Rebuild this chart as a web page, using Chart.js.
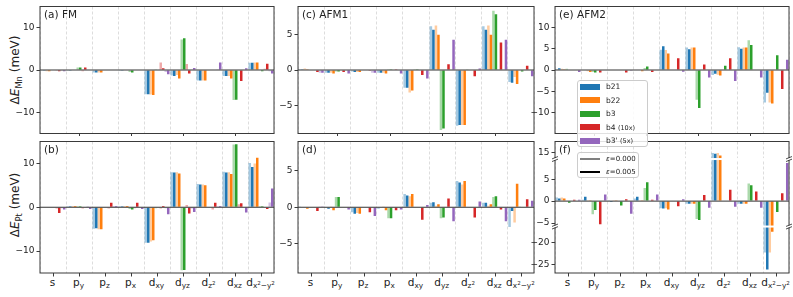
<!DOCTYPE html>
<html>
<head>
<meta charset="utf-8">
<script src="https://cdn.jsdelivr.net/npm/chart.js@4.4.1/dist/chart.umd.min.js"></script>
<style>
body{margin:0;background:#fff}
#fig{position:relative;width:793px;height:297px;overflow:hidden;font-family:"DejaVu Sans",sans-serif;color:#222}
canvas{position:absolute}
.xl{position:absolute;font-size:10.5px;line-height:1;white-space:nowrap;transform:translateX(-50%)}
.pt{position:absolute;font-size:10.5px;line-height:1;white-space:nowrap}
.yt{position:absolute;font-size:12px;line-height:1;white-space:nowrap;transform:translate(-50%,-50%) rotate(-90deg)}
sub{font-size:0.7em;vertical-align:-0.3em;line-height:0}
sup{font-size:0.75em;vertical-align:0.55em;line-height:0}
.leg{position:absolute;background:rgba(255,255,255,0.85);border:1px solid #ccc;border-radius:3px;box-sizing:border-box}
.leg .pa{position:absolute;left:2px;width:20px;height:6px}
.leg .tx{position:absolute;left:28px;font-size:7.5px;line-height:9px;white-space:nowrap}
.leg small{font-size:6.5px}
</style>
</head>
<body>
<div id="fig"></div>
<script>
const categories = ['s','py','pz','px','dxy','dyz','dz2','dxz','dx2-y2'];
const catLabels = ['s','p<sub>y</sub>','p<sub>z</sub>','p<sub>x</sub>','d<sub>xy</sub>','d<sub>yz</sub>',
  'd<sub>z<sup>2</sup></sub>','d<sub>xz</sub>','d<sub>x<sup>2</sup>\u2212y<sup>2</sup></sub>'];
const seriesNames = ['b21','b22','b3','b4 (10x)',"b3' (5x)"];
const strains = ['0.000','0.005'];

// y tick values per panel
const yTicksFM = [-10,0,10];
const yTicksAFM1 = [-5,0,5];
const yTicksAFM2 = [-10,-5,0,5,10];
const yTicksAFM2Pt = [-25,-20,-5,0,5,15];

// each series: [eps=0.000, eps=0.005], values in meV per orbital
// (a) FM, Mn
const fmMn_b21 = [[-0.2,-0.2,-0.6,-0.2,-5.7,-1.3,-2.5,-1.4,1.7],[-0.2,-0.2,-0.6,-0.2,-5.7,-1.4,-2.5,-1.4,1.7]];
const fmMn_b22 = [[-0.3,-0.1,-0.6,0,-5.8,-1.2,-2.5,-1.4,1.8],[-0.3,-0.1,-0.6,-0.1,-5.9,-2.0,-2.5,-2.0,1.8]];
const fmMn_b3 = [[-0.1,0.6,0,-0.5,0.2,7.2,0,-7.1,0],[-0.1,0.6,0,-0.6,0,7.5,0,-7.0,-0.3]];
const fmMn_b4 = [[-0.2,-0.3,0,0.1,1.8,1.4,-0.1,0,0.3],[-0.3,0.6,0,0,0.4,-0.8,-0.1,-2.6,1.5]];
const fmMn_b3p = [[-0.2,0.1,0,0,-0.5,0.2,0.2,0,-0.3],[-0.3,0.1,0,0,-1.0,0.5,1.8,0.4,-0.8]];
// (b) FM, Pt
const fmPt_b21 = [[0,0.2,-4.9,0.2,-8.1,8.0,5.3,8.1,10.1],[0,0.2,-4.8,0.2,-8.1,7.9,5.2,7.9,9.2]];
const fmPt_b22 = [[0,0.3,-5.0,0.3,-7.8,8.0,5.2,8.0,10.0],[0,0.3,-5.0,0.3,-7.5,7.7,5.0,7.6,11.3]];
const fmPt_b3 = [[-0.1,0.2,0,-0.4,-0.2,-14.4,0,14.3,0.2],[0,0.2,0,-0.5,0,-14.3,0,14.4,0.2]];
const fmPt_b4 = [[-0.3,-0.3,-0.3,-0.2,-0.3,0.5,-0.5,0.7,-0.1],[-1.3,0,1.0,1.0,0.3,-1.4,1.0,0.9,-0.4]];
const fmPt_b3p = [[-0.2,0.2,0.3,0,-0.2,-0.3,0.2,0,1.1],[-0.5,-0.4,0.3,-0.4,-1.6,-1.1,0.3,-1.2,4.3]];
// (c) AFM1, Mn
const afm1Mn_b21 = [[0.1,-0.4,-0.2,-0.4,-2.5,6.2,-7.9,6.2,-1.7],[0.1,-0.4,-0.3,-0.4,-2.5,5.7,-7.8,5.7,-1.8]];
const afm1Mn_b22 = [[0.2,-0.4,-0.3,-0.4,-3.2,6.3,-7.8,6.3,-1.0],[0.1,-0.5,-0.3,-0.5,-2.9,5.0,-7.8,5.0,-2.0]];
const afm1Mn_b3 = [[0,-0.2,0,0.1,0.1,-8.5,0.1,8.4,0],[0,-0.2,0,0.1,0.1,-8.3,0,7.9,-0.2]];
const afm1Mn_b4 = [[0,0,0,0,0,0,0,0,0],[-0.3,-0.3,-0.05,0.1,-0.7,0.8,-0.9,3.9,0.6]];
const afm1Mn_b3p = [[-0.4,0,-0.4,0,0,0,0,0,0],[-0.4,-0.5,-0.4,-0.5,-1.2,4.3,0.2,4.3,-0.9]];
// (d) AFM1, Pt
const afm1Pt_b21 = [[0.1,-0.1,-0.7,-0.2,1.8,0.6,3.6,0.6,-2.7],[0,-0.2,-0.9,0,1.6,0.7,3.4,0.6,-0.5]];
const afm1Pt_b22 = [[0,0.1,-0.8,0.1,1.5,0.2,3.1,0.2,-2.1],[-0.2,-0.4,-0.9,-0.4,1.8,0.4,3.6,0.4,3.2]];
const afm1Pt_b3 = [[0,1.4,0,-1.5,0,-1.5,0,1.4,0.1],[0,1.4,0,-1.5,0,-1.4,0,1.5,0]];
const afm1Pt_b4 = [[0,0,0,0,0,0,0,0,0],[-0.5,0,-0.7,-0.4,-1.7,1.2,-1.4,-0.3,1.1]];
const afm1Pt_b3p = [[0.1,0,0,0,0,0,0,0,0],[0.1,-0.3,-1.2,-0.3,0.3,-1.9,0.8,-1.9,0.9]];
// (e) AFM2, Mn
const afm2Mn_b21 = [[0.2,-0.1,0,0,4.8,5.3,-1.2,5.4,-7.7],[0.4,-0.1,0,0,5.6,4.9,-0.9,5.0,-5.4]];
const afm2Mn_b22 = [[0.3,-0.3,0,-0.1,4.7,5.3,-1.1,5.3,-7.7],[0.2,-0.5,-0.1,-0.3,3.9,5.3,-1.3,5.3,-7.9]];
const afm2Mn_b3 = [[0.3,-0.5,0,0.5,0.1,-7.0,0.1,7.0,0],[0.1,-0.6,0,0.8,0,-9.0,1.0,5.9,3.5]];
const afm2Mn_b4 = [[0,0,0,0,0,0,0,0,0],[0,-0.6,-0.6,-0.5,2.8,1.3,2.8,0,-4.5]];
const afm2Mn_b3p = [[0,0,0,0,0,0,0,0,0],[-0.5,0,-0.2,0,-0.4,-1.8,-2.6,-1.8,2.4]];
// (f) AFM2, Pt
const afm2Pt_b21 = [[0.8,0.3,0.2,0.6,-1.6,-0.6,15.0,-0.6,-22.2],[0.6,1.0,-0.2,1.0,-1.7,-0.6,14.8,-0.6,-26.1]];
const afm2Pt_b22 = [[0.8,0.2,0.2,0.2,-1.6,-0.6,15.0,-0.6,-22.2],[0.6,0.2,0.1,0.2,-1.9,-0.6,14.4,-0.6,-17.5]];
const afm2Pt_b3 = [[0,-3.0,0,3.0,0,-4.1,0,4.0,0],[-0.4,-2.0,-1.0,4.3,0,-4.3,-0.1,3.6,-2.5]];
const afm2Pt_b4 = [[0,0,0,0,0,0,0,0,0],[0.3,-5.3,0.4,0.3,-1.2,1.4,2.6,2.2,1.8]];
const afm2Pt_b3p = [[0,0,0,0,0,0,0,0,0],[0.3,1.5,-2.9,1.5,0.4,-1.5,-1.3,-1.5,8.7]];

const colors = ['#1f77b4','#ff7f0e','#2ca02c','#d62728','#9467bd'];

// panel (f) has a broken y axis: shift the outer segments toward the middle
function brk(v){
  if (v > 9.6) return Math.max(v - 4, 9.6);
  if (v < -5.8) return Math.min(v + 10.5, -5.8);
  return v;
}
function light(hex){
  const n = parseInt(hex.slice(1),16);
  return 'rgba('+(n>>16)+','+((n>>8)&255)+','+(n&255)+',0.4)';
}
function fmt(v){ return v < 0 ? '\u2212'+Math.abs(v) : String(v); }

const cols = [[39.5,234],[297.5,236],[554.5,234]];
const rows = [[2.5,134],[137.5,135]];

const panels = [
  {title:'(a) FM', col:0, row:0, data:[fmMn_b21,fmMn_b22,fmMn_b3,fmMn_b4,fmMn_b3p], ticks:yTicksFM, min:-15, max:15},
  {title:'(b)', col:0, row:1, data:[fmPt_b21,fmPt_b22,fmPt_b3,fmPt_b4,fmPt_b3p], ticks:yTicksFM, min:-15, max:15},
  {title:'(c) AFM1', col:1, row:0, data:[afm1Mn_b21,afm1Mn_b22,afm1Mn_b3,afm1Mn_b4,afm1Mn_b3p], ticks:yTicksAFM1, min:-9, max:9},
  {title:'(d)', col:1, row:1, data:[afm1Pt_b21,afm1Pt_b22,afm1Pt_b3,afm1Pt_b4,afm1Pt_b3p], ticks:yTicksAFM1, min:-9, max:9},
  {title:'(e) AFM2', col:2, row:0, data:[afm2Mn_b21,afm2Mn_b22,afm2Mn_b3,afm2Mn_b4,afm2Mn_b3p], ticks:yTicksAFM2, min:-15, max:15},
  {title:'(f)', col:2, row:1, data:[afm2Pt_b21,afm2Pt_b22,afm2Pt_b3,afm2Pt_b4,afm2Pt_b3p], ticks:yTicksAFM2Pt, min:-16.4, max:13.6, broken:true}
];

const frame = {
  id:'frame',
  afterDatasetsDraw(chart, args, o){
    const {ctx, chartArea:a, scales:{x, y}} = chart;
    ctx.save();
    const y0 = y.getPixelForValue(0);
    ctx.strokeStyle = '#333'; ctx.lineWidth = 1;
    ctx.beginPath(); ctx.moveTo(a.left, y0); ctx.lineTo(a.right, y0); ctx.stroke();
    (o.breaks || []).forEach(b => {
      const yb = y.getPixelForValue(b);
      ctx.fillStyle = '#fff';
      ctx.fillRect(a.left+1, yb-1, a.right-a.left-2, 2);
    });
    ctx.strokeStyle = '#3a3a3a'; ctx.lineWidth = 1;
    ctx.strokeRect(a.left, a.top, a.right-a.left, a.bottom-a.top);
    (o.breaks || []).forEach(b => {
      const yb = y.getPixelForValue(b);
      [a.left, a.right].forEach(xs => {
        ctx.fillStyle = '#fff';
        ctx.fillRect(xs-2, yb-1, 4, 2);
        ctx.strokeStyle = '#222'; ctx.lineWidth = 0.8;
        [-1.3, 1.3].forEach(off => {
          ctx.beginPath(); ctx.moveTo(xs-3, yb+off+1.2); ctx.lineTo(xs+3, yb+off-1.2); ctx.stroke();
        });
      });
    });
    ctx.strokeStyle = '#3a3a3a'; ctx.lineWidth = 1;
    categories.forEach((c, i) => {
      // bottom row: every tick; top row: only the marks that show past the lower panel's edge
      if (!o.xticks && i % 2 === 0) return;
      const px = Math.round(x.getPixelForValue(i)) + 0.5;
      ctx.beginPath(); ctx.moveTo(px, a.bottom); ctx.lineTo(px, a.bottom + (o.xticks ? 3.5 : 2.5)); ctx.stroke();
    });
    ctx.restore();
  }
};

const fig = document.getElementById('fig');

function makePanel(p){
  const [L, W] = cols[p.col], [T, H] = rows[p.row];
  const xh = p.row === 1 ? 5 : 0;
  const cv = document.createElement('canvas');
  cv.width = W + 38; cv.height = H + 6 + xh;
  cv.style.left = (L - 34) + 'px'; cv.style.top = (T - 3) + 'px';
  cv.style.zIndex = p.row === 0 ? 2 : 1;
  fig.appendChild(cv);
  const f = p.broken ? brk : (v => v);
  const datasets = [];
  p.data.forEach((s, i) => {
    s.forEach((vals, j) => {
      datasets.push({
        label: seriesNames[i] + ' \u03b5=' + strains[j],
        data: vals.map(f),
        backgroundColor: j === 0 ? light(colors[i]) : colors[i],
        borderWidth: 0,
        categoryPercentage: 0.96,
        barPercentage: 1.0
      });
    });
  });
  const chart = new Chart(cv, {
    type: 'bar',
    data: {labels: categories, datasets},
    options: {
      responsive: false, animation: false, devicePixelRatio: 1,
      layout: {autoPadding: false, padding: {left: 0, top: 3, right: 4, bottom: 3}},
      plugins: {legend: {display: false}, tooltip: {enabled: false},
        frame: {xticks: p.row === 1, breaks: p.broken ? [9.6, -5.8] : []}},
      scales: {
        x: {
          grid: {offset: true, color: '#d4d4d4', lineWidth: 0.8, drawTicks: false},
          border: {display: false, dash: [3, 2]},
          ticks: {display: false},
          afterFit: s => { s.height = xh; }
        },
        y: {
          min: p.min, max: p.max,
          afterBuildTicks: s => { s.ticks = p.ticks.map(v => ({value: f(v)})); },
          ticks: {callback: (v, i) => fmt(p.ticks[i]), autoSkip: false, padding: 2, color: '#222',
            font: {family: 'DejaVu Sans', size: 9, lineHeight: 1}},
          grid: {drawOnChartArea: false, color: 'rgba(0,0,0,0)', tickColor: '#3a3a3a', tickLength: 3.5},
          border: {display: false},
          afterFit: s => { s.width = 34; }
        }
      }
    },
    plugins: [frame]
  });

  const t = document.createElement('div');
  t.className = 'pt'; t.textContent = p.title;
  t.style.left = (L + 4.5) + 'px'; t.style.top = (T + 6.5) + 'px';
  t.style.zIndex = 3;
  fig.appendChild(t);

  if (p.row === 1) {
    catLabels.forEach((lab, i) => {
      const d = document.createElement('div');
      d.className = 'xl'; d.innerHTML = lab;
      d.style.left = (L - 34 + chart.scales.x.getPixelForValue(i)) + 'px';
      d.style.top = (T + H + 4) + 'px';
      fig.appendChild(d);
    });
  }
}

panels.forEach(makePanel);

// y axis titles
[['Mn', 69.5], ['Pt', 205]].forEach(([el, yc]) => {
  const d = document.createElement('div');
  d.className = 'yt';
  d.innerHTML = '\u0394<i>E</i><sub>' + el + '</sub> (meV)';
  d.style.left = '15px'; d.style.top = yc + 'px';
  fig.appendChild(d);
});

// legends
const leg1 = document.createElement('div');
leg1.className = 'leg';
leg1.style.cssText = 'left:577px;top:80px;width:71px;height:67px;z-index:5';
seriesNames.forEach((n, i) => {
  const c = 6 + 13.5 * i;
  const pa = document.createElement('div');
  pa.className = 'pa'; pa.style.top = (c - 3.5) + 'px'; pa.style.background = colors[i];
  const tx = document.createElement('div');
  tx.className = 'tx'; tx.style.top = (c - 5) + 'px';
  const k = n.indexOf(' (');
  tx.innerHTML = k < 0 ? n : n.slice(0, k) + ' <small>' + n.slice(k + 1) + '</small>';
  leg1.appendChild(pa); leg1.appendChild(tx);
});
fig.appendChild(leg1);

const leg2 = document.createElement('div');
leg2.className = 'leg';
leg2.style.cssText = 'left:577px;top:151.5px;width:62px;height:26px;z-index:5';
strains.forEach((s, j) => {
  const c = 7 + 13.4 * j;
  const ln = document.createElement('div');
  ln.className = 'pa'; ln.style.top = (c - 1.5) + 'px'; ln.style.height = '2px';
  ln.style.background = j === 0 ? '#808080' : '#000';
  const tx = document.createElement('div');
  tx.className = 'tx'; tx.style.top = (c - 5) + 'px'; tx.style.fontSize = '7px';
  tx.innerHTML = '<i>\u03b5</i>=' + s;
  leg2.appendChild(ln); leg2.appendChild(tx);
});
fig.appendChild(leg2);
</script>
</body>
</html>
